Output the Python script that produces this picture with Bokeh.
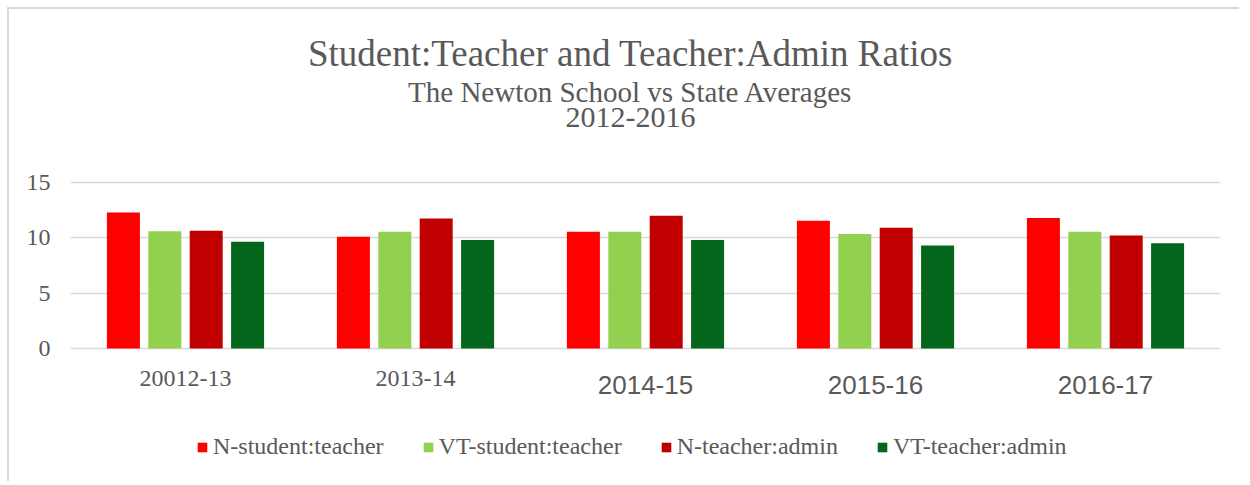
from bokeh.plotting import figure
from bokeh.models import (ColumnDataSource, FactorRange, FixedTicker, Label, LabelSet,
                          Legend, LegendItem, Range1d)
from bokeh.transform import dodge
from bokeh.core.properties import value
from bokeh.embed import file_html
from bokeh.resources import INLINE

# ---- data ----
categories = ["20012-13", "2013-14", "2014-15", "2015-16", "2016-17"]
series_names = ["N-student:teacher", "VT-student:teacher", "N-teacher:admin", "VT-teacher:admin"]
n_student_teacher = [12.3, 10.1, 10.55, 11.55, 11.8]
vt_student_teacher = [10.6, 10.55, 10.55, 10.35, 10.55]
n_teacher_admin = [10.65, 11.75, 12.0, 10.9, 10.2]
vt_teacher_admin = [9.65, 9.8, 9.8, 9.3, 9.5]
y_ticks = [0, 5, 10, 15]
serif_cats = ["20012-13", "2013-14"]
sans_cats = ["2014-15", "2015-16", "2016-17"]

colors = ["#FF0000", "#92D050", "#C00000", "#03661A"]
SERIF = "Liberation Serif"
SANS = "Liberation Sans"
TXT = "#595959"

source = ColumnDataSource(dict(
    cat=categories,
    s0=n_student_teacher, s1=vt_student_teacher, s2=n_teacher_admin, s3=vt_teacher_admin,
))

# frame spans the whole chart area so that titles, category labels and legend
# (drawn as annotations) are not clipped; 0..15 keeps the original pixel scale.
PX_PER_UNIT = (348 - 182) / 15.0
y_lo = -(475 - 348) / PX_PER_UNIT
y_hi = 15 + (182 - 20) / PX_PER_UNIT

p = figure(
    x_range=FactorRange(*categories, range_padding=0),
    y_range=Range1d(y_lo, y_hi),
    width=1232, height=474,
    output_backend="svg", toolbar_location=None,
    min_border_left=61, min_border_right=21, min_border_top=11, min_border_bottom=8,
)
p.styles = {"margin-left": "7px", "margin-top": "7px",
            "border-left": "2px solid #d9d9d9", "border-top": "2px solid #d9d9d9"}
p.outline_line_color = None
p.background_fill_color = "white"
p.border_fill_color = "white"

step = 0.18
bw = 0.1435
renderers = []
for i, (col, c) in enumerate(zip(["s0", "s1", "s2", "s3"], colors)):
    r = p.vbar(x=dodge("cat", (i - 1.5) * step, range=p.x_range), top=col, width=bw,
               source=source, fill_color=c, line_color=None)
    renderers.append(r)

# axes
p.xaxis.visible = False
p.xgrid.visible = False
p.yaxis.ticker = FixedTicker(ticks=y_ticks)
p.yaxis.axis_line_color = None
p.yaxis.major_tick_line_color = None
p.yaxis.minor_tick_line_color = None
p.yaxis.major_tick_in = 0
p.yaxis.major_tick_out = 0
p.yaxis.major_label_standoff = 20
p.yaxis.major_label_text_font = SERIF
p.yaxis.major_label_text_font_size = "24px"
p.yaxis.major_label_text_color = TXT
p.ygrid.ticker = FixedTicker(ticks=y_ticks)
p.ygrid.grid_line_color = "#d9d9d9"
p.ygrid.grid_line_width = 1.5

# category labels (mixed fonts as in the original)
src_serif = ColumnDataSource(dict(cat=serif_cats))
src_sans = ColumnDataSource(dict(cat=sans_cats))
p.add_layout(LabelSet(x="cat", y=90, y_units="screen", text="cat", source=src_serif,
                      text_align="center", text_baseline="alphabetic",
                      text_font=value(SERIF), text_font_size=value("24px"), text_color=value(TXT)))
p.add_layout(LabelSet(x="cat", y=82, y_units="screen", text="cat", source=src_sans,
                      text_align="center", text_baseline="alphabetic",
                      text_font=value(SANS), text_font_size=value("26px"), text_color=value(TXT)))

# titles
for txt, yy, fs in [("Student:Teacher and Teacher:Admin Ratios", 422, "37px"),
                    ("The Newton School vs State Averages", 384, "29px"),
                    ("2012-2016", 358, "30px")]:
    p.add_layout(Label(x=560, y=yy, x_units="screen", y_units="screen", text=txt,
                       text_align="center", text_baseline="alphabetic",
                       text_font=SERIF, text_font_size=fs, text_color=TXT))

legend = Legend(
    items=[LegendItem(label=n, renderers=[r]) for n, r in zip(series_names, renderers)],
    orientation="horizontal", location=(126, 15),
    padding=0, margin=0, spacing=38, glyph_width=12, glyph_height=12, label_standoff=5,
    label_text_font=SERIF, label_text_font_size="24px", label_text_color=TXT,
    border_line_color=None, background_fill_alpha=0,
)
p.add_layout(legend, "center")

open("out.html", "w").write(file_html(p, INLINE))
